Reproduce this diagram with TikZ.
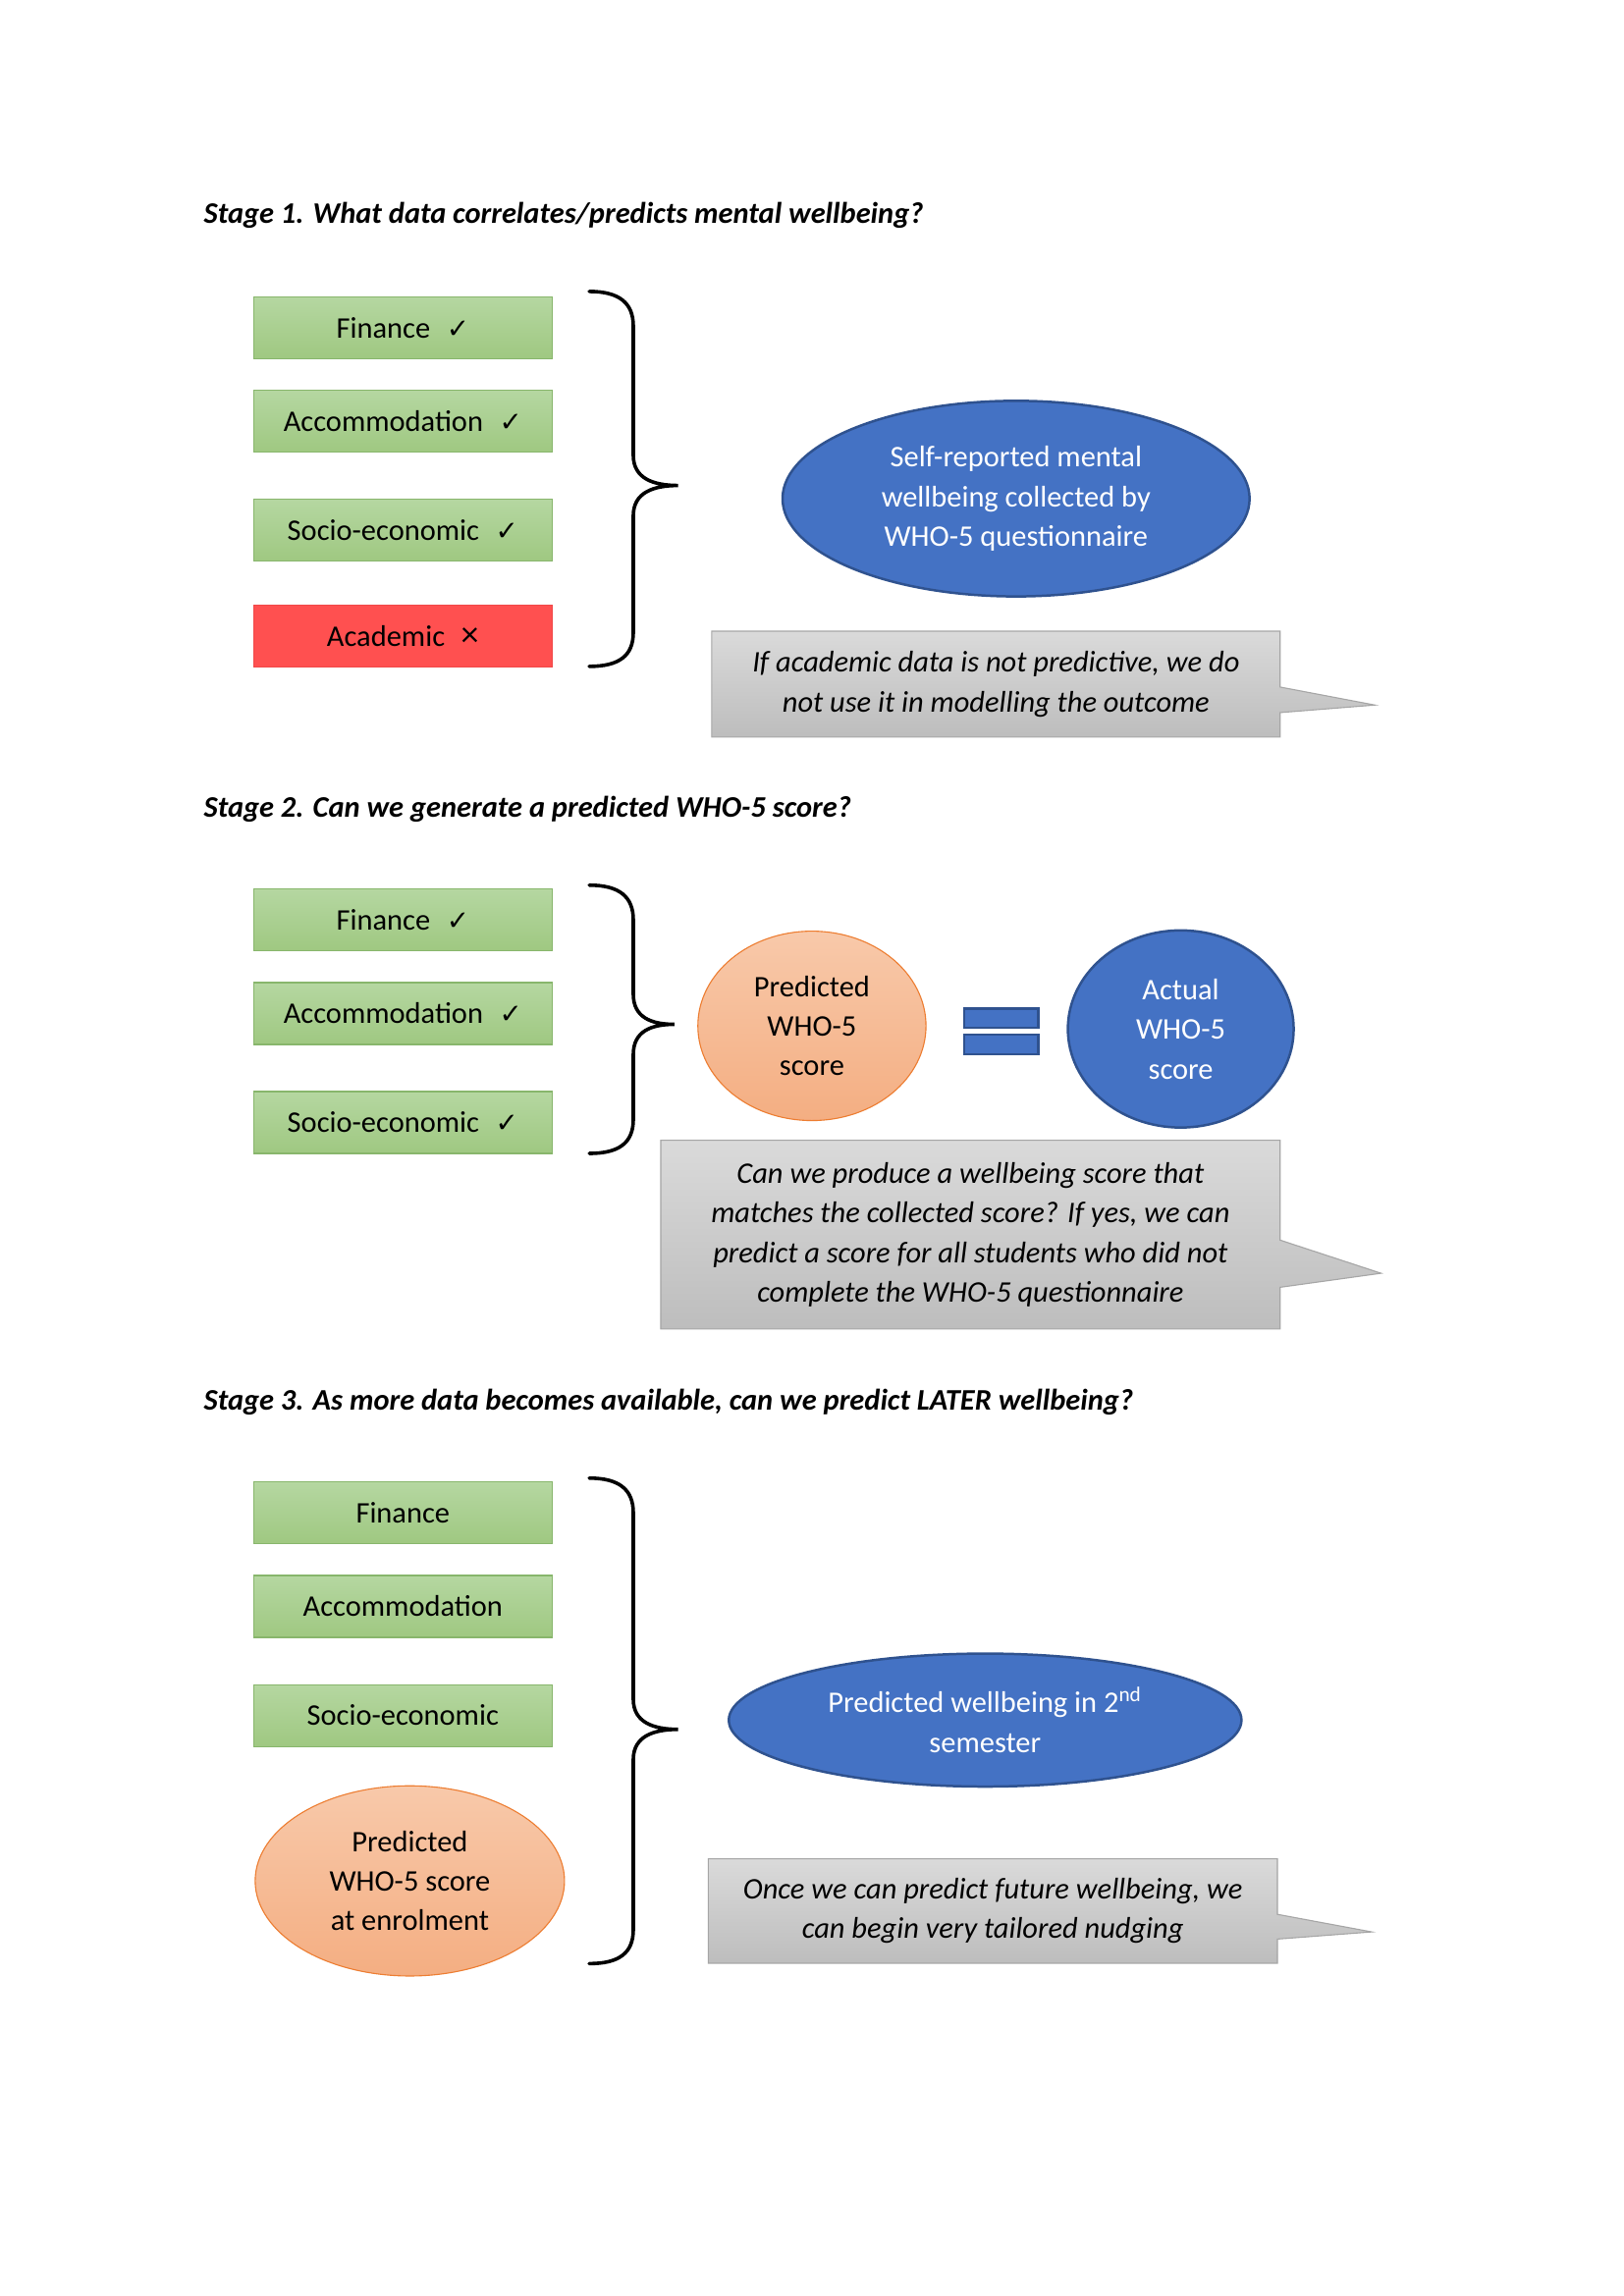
\documentclass[tikz,border=0pt]{standalone}
\usepackage{fontspec}
\setmainfont{Carlito}
\newfontfamily\symfont{DejaVu Sans}
\usepackage{xcolor}
\usepackage{tikz}
\usetikzlibrary{shapes.geometric, shapes.callouts, positioning}
\definecolor{greentop}{HTML}{B5D7A1}
\definecolor{greenbot}{HTML}{9FC881}
\definecolor{greenline}{HTML}{88B66C}
\definecolor{redfill}{HTML}{FF5050}
\definecolor{redline}{HTML}{F04848}
\definecolor{bluefill}{HTML}{4472C4}
\definecolor{blueline}{HTML}{2F528F}
\definecolor{orangetop}{HTML}{F8C9AA}
\definecolor{orangebot}{HTML}{F4AE82}
\definecolor{orangeline}{HTML}{ED7D31}
\definecolor{graytop}{HTML}{DADADA}
\definecolor{graybot}{HTML}{BDBDBD}
\definecolor{grayline}{HTML}{A6A6A6}
\newcommand{\okmark}{\hspace{6pt}{\symfont\fontsize{10pt}{12pt}\selectfont ✓}}
\newcommand{\nomark}{\hspace{6pt}{\fontsize{13pt}{14pt}\selectfont ×}}
\tikzset{every node/.style={font=\fontsize{11pt}{14.6pt}\selectfont}}

\begin{document}
\begin{tikzpicture}[node distance=1.21cm, every node/.style={font=\fontsize{11pt}{14.6pt}\selectfont}]
    % Define styles
    \tikzstyle{databox} = [rectangle, minimum width=3.86cm, minimum height=0.80cm, text centered, draw=greenline, top color=greentop, bottom color=greenbot]
    \tikzstyle{dropbox} = [rectangle, minimum width=3.86cm, minimum height=0.80cm, text centered, draw=redline, fill=redfill]
    \tikzstyle{bluebubble} = [ellipse, inner sep=0pt, align=center, text=white, draw=blueline, line width=0.9pt, fill=bluefill]
    \tikzstyle{orangebubble} = [ellipse, inner sep=0pt, align=center, draw=orangeline, top color=orangetop, bottom color=orangebot]
    \tikzstyle{notebox} = [rectangle callout, inner sep=0pt, align=center, draw=grayline, top color=graytop, bottom color=graybot, font=\fontsize{11pt}{14.6pt}\selectfont\itshape]
    \tikzstyle{stagetitle} = [anchor=west, inner sep=0pt, font=\fontsize{11pt}{14.6pt}\selectfont\bfseries\itshape]
    \tikzstyle{equalbar} = [rectangle, inner sep=0pt, minimum width=0.96cm, minimum height=0.25cm, draw=blueline, line width=0.9pt, fill=bluefill]
    \tikzstyle{brace} = [line width=1.3pt, line cap=round]

    % Page
    \fill [white] (0,0) rectangle (21,-29.7);
    \useasboundingbox (0,0) rectangle (21,-29.7);

    % Stage 1
    \node (title1) [stagetitle] at (2.63,-2.79) {Stage 1. What data correlates/predicts mental wellbeing?};
    \node (fin1) [databox] at (5.21,-4.24) {Finance\okmark};
    \node (acc1) [databox, below of=fin1] {Accommodation\okmark};
    \node (soc1) [databox, below of=acc1, yshift=-0.20cm] {Socio-economic\okmark};
    \node (aca1) [dropbox, below of=soc1, yshift=-0.16cm] {Academic\nomark};
    \draw [brace] (7.62,-3.77) .. controls (8.01,-3.77) and (8.19,-3.92) .. (8.19,-4.22)
        -- (8.19,-5.89) .. controls (8.19,-6.19) and (8.45,-6.28) .. (8.77,-6.28)
        .. controls (8.45,-6.28) and (8.19,-6.37) .. (8.19,-6.67)
        -- (8.19,-8.18) .. controls (8.19,-8.48) and (8.01,-8.62) .. (7.62,-8.62);
    \node (selfrep) [bluebubble, minimum width=6.04cm, minimum height=2.53cm] at (13.14,-6.45) {Self-reported mental\\wellbeing collected by\\WHO-5 questionnaire};
    \node (note1) [notebox, minimum width=7.35cm, minimum height=1.37cm, callout absolute pointer={(17.78,-9.12)}, callout pointer width=0.33cm] at (12.88,-8.85) {If academic data is not predictive, we do\\not use it in modelling the outcome};

    % Stage 2
    \node (title2) [stagetitle] at (2.63,-10.47) {Stage 2. Can we generate a predicted WHO-5 score?};
    \node (fin2) [databox] at (5.21,-11.90) {Finance\okmark};
    \node (acc2) [databox, below of=fin2] {Accommodation\okmark};
    \node (soc2) [databox, below of=acc2, yshift=-0.20cm] {Socio-economic\okmark};
    \draw [brace] (7.62,-11.45) .. controls (8.01,-11.45) and (8.19,-11.60) .. (8.19,-11.90)
        -- (8.19,-12.86) .. controls (8.19,-13.16) and (8.42,-13.25) .. (8.72,-13.25)
        .. controls (8.42,-13.25) and (8.19,-13.34) .. (8.19,-13.64)
        -- (8.19,-14.48) .. controls (8.19,-14.78) and (8.01,-14.92) .. (7.62,-14.92);
    \node (pred2) [orangebubble, minimum width=2.95cm, minimum height=2.45cm] at (10.50,-13.27) {Predicted\\WHO-5\\score};
    \node (eqtop) [equalbar] at (12.95,-13.17) {};
    \node (eqbot) [equalbar, below of=eqtop, node distance=0.34cm] {};
    \node (act2) [bluebubble, minimum width=2.92cm, minimum height=2.55cm] at (15.27,-13.31) {Actual\\WHO-5\\score};
    \node (note2) [notebox, minimum width=8.01cm, minimum height=2.44cm, callout absolute pointer={(17.86,-16.47)}, callout pointer width=0.61cm] at (12.55,-15.97) {Can we produce a wellbeing score that\\matches the collected score? If yes, we can\\predict a score for all students who did not\\complete the WHO-5 questionnaire};

    % Stage 3
    \node (title3) [stagetitle] at (2.63,-18.14) {Stage 3. As more data becomes available, can we predict LATER wellbeing?};
    \node (fin3) [databox] at (5.21,-19.57) {Finance};
    \node (acc3) [databox, below of=fin3] {Accommodation};
    \node (soc3) [databox, below of=acc3, yshift=-0.20cm] {Socio-economic};
    \node (pred3) [orangebubble, minimum width=4.00cm, minimum height=2.46cm, below of=soc3, yshift=-0.93cm, xshift=0.09cm] {Predicted\\WHO-5 score\\at enrolment};
    \draw [brace] (7.62,-19.12) .. controls (8.01,-19.12) and (8.19,-19.27) .. (8.19,-19.57)
        -- (8.19,-21.98) .. controls (8.19,-22.28) and (8.45,-22.37) .. (8.77,-22.37)
        .. controls (8.45,-22.37) and (8.19,-22.46) .. (8.19,-22.76)
        -- (8.19,-24.96) .. controls (8.19,-25.26) and (8.01,-25.40) .. (7.62,-25.40);
    \node (sem3) [bluebubble, minimum width=6.63cm, minimum height=1.72cm] at (12.74,-22.25) {Predicted wellbeing in 2\textsuperscript{nd}\\semester};
    \node (note3) [notebox, minimum width=7.36cm, minimum height=1.35cm, callout absolute pointer={(17.74,-24.99)}, callout pointer width=0.32cm] at (12.84,-24.72) {Once we can predict future wellbeing, we\\can begin very tailored nudging};
\end{tikzpicture}
\end{document}
